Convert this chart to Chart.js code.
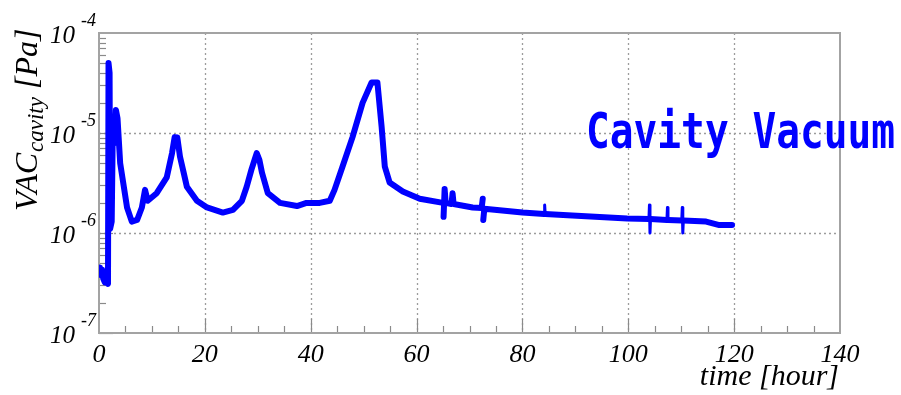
<!DOCTYPE html>
<html>
<head>
<meta charset="utf-8">
<script src="https://cdn.jsdelivr.net/npm/chart.js@4/dist/chart.umd.min.js"></script>
<style>
html,body{margin:0;padding:0;background:#fff;}
#c{display:block;}
</style>
</head>
<body>
<canvas id="c" width="901" height="395"></canvas>
<script>
// ---- data ----
const hours = [0,0.2,0.4,0.6,0.8,1.1,1.5,1.7,1.8,2.0,
  2.1,2.4,2.6,2.9,3.2,3.5,4.0,5.3,6.2,7.2,
  8.1,8.7,9.2,10.9,12.8,13.8,14.3,14.8,15.3,16.0,16.6,
  18.5,20.4,23.4,25.3,27.0,27.9,28.8,29.4,29.8,30.3,
  30.8,31.9,34.2,37.4,39.2,41.7,43.6,44.5,46.0,47.9,
  49.8,51.5,52.6,53.4,54.0,54.9,57.4,60.6,65.0,65.1,
  65.3,65.5,66.6,66.8,67.0,70.6,72.3,72.5,72.6,72.8,
  80.0,84.1,84.2,84.3,89.4,99.8,103.9,104.0,104.1,104.2,
  107.3,107.4,107.5,110.1,110.2,110.3,110.4,114.7,117.2,119.6];
const vacuum = [4.1e-7,4.5e-7,3.8e-7,4.3e-7,3.5e-7,3.2e-7,3.2e-7,3.1e-7,5.0e-5,4.0e-5,
  1.1e-6,1.3e-6,1.0e-5,7.9e-6,1.7e-5,1.4e-5,5.0e-6,1.8e-6,1.3e-6,1.35e-6,
  1.8e-6,2.7e-6,2.1e-6,2.5e-6,3.6e-6,6.3e-6,9.1e-6,9.0e-6,5.8e-6,4.0e-6,2.9e-6,
  2.1e-6,1.8e-6,1.6e-6,1.7e-6,2.1e-6,2.9e-6,4.3e-6,5.4e-6,6.3e-6,5.4e-6,
  4.0e-6,2.5e-6,2.0e-6,1.86e-6,2.0e-6,2.0e-6,2.1e-6,2.7e-6,4.6e-6,9.1e-6,
  2.0e-5,3.2e-5,3.2e-5,1.15e-5,4.6e-6,3.2e-6,2.6e-6,2.2e-6,2.0e-6,1.45e-6,
  2.75e-6,2.0e-6,1.95e-6,2.5e-6,1.95e-6,1.8e-6,1.78e-6,2.2e-6,1.35e-6,1.75e-6,
  1.6e-6,1.55e-6,1.9e-6,1.55e-6,1.5e-6,1.4e-6,1.38e-6,1.9e-6,1.0e-6,1.38e-6,
  1.35e-6,1.8e-6,1.35e-6,1.33e-6,1.8e-6,1.0e-6,1.33e-6,1.3e-6,1.2e-6,1.2e-6];

const xTickValues = [0,20,40,60,80,100,120,140];
const xTickLabels = ['0','20','40','60','80','100','120','140'];
const yDecades = [1e-4,1e-5,1e-6,1e-7];
const yTickExponents = ['-4','-5','-6','-7'];
const xGridValues = [20,40,60,80,100,120];
const yGridValues = [1e-5,1e-6];
const xTitle = 'time [hour]';
const yTitleMain = 'VAC', yTitleSub = 'cavity', yTitleUnit = '[Pa]';
const annotation = 'Cavity Vacuum';

const SERIF = '"Liberation Serif", "DejaVu Serif", serif';

const decor = {
  id: 'decor',
  beforeDatasetsDraw(chart) {
    const {ctx, chartArea: a, scales: {x, y}} = chart;
    ctx.save();
    ctx.strokeStyle = '#9c9c9c';
    ctx.lineWidth = 1.3;
    ctx.setLineDash([2, 3]);
    xGridValues.forEach(v => {
      const px = Math.round(x.getPixelForValue(v)) + 0.5;
      ctx.beginPath(); ctx.moveTo(px, a.top); ctx.lineTo(px, a.bottom); ctx.stroke();
    });
    yGridValues.forEach(v => {
      const py = Math.round(y.getPixelForValue(v)) + 0.5;
      ctx.beginPath(); ctx.moveTo(a.left, py); ctx.lineTo(a.right, py); ctx.stroke();
    });
    ctx.setLineDash([]);
    ctx.strokeStyle = '#8a8a8a';
    ctx.lineWidth = 1.2;
    for (let v = 5; v < 140; v += 5) {
      const px = Math.round(x.getPixelForValue(v)) + 0.5;
      const len = (v % 20 === 0) ? 14 : 7;
      ctx.beginPath(); ctx.moveTo(px, a.bottom); ctx.lineTo(px, a.bottom - len); ctx.stroke();
    }
    yDecades.forEach((d, i) => {
      if (i === 0) return;
      for (let m = 1; m <= 9; m++) {
        const v = d * m;
        const py = Math.round(y.getPixelForValue(v)) + 0.5;
        const len = m === 1 ? 14 : 7;
        ctx.beginPath(); ctx.moveTo(a.left, py); ctx.lineTo(a.left + len, py); ctx.stroke();
      }
    });
    ctx.strokeStyle = '#a3a3a3';
    ctx.lineWidth = 2;
    ctx.strokeRect(a.left, a.top, a.right - a.left, a.bottom - a.top);
    ctx.restore();
  },
  afterDraw(chart) {
    const {ctx, chartArea: a, scales: {x, y}} = chart;
    ctx.save();
    ctx.fillStyle = '#000';
    ctx.font = 'italic 26px ' + SERIF;
    ctx.textAlign = 'center';
    ctx.textBaseline = 'alphabetic';
    xTickValues.forEach((v, i) => {
      ctx.fillText(xTickLabels[i], x.getPixelForValue(v), 362);
    });
    yDecades.forEach((d, i) => {
      const py = y.getPixelForValue(d);
      ctx.font = 'italic 25px ' + SERIF;
      ctx.textAlign = 'right';
      ctx.fillText('10', 75, py + 10);
      ctx.font = 'italic 18px ' + SERIF;
      ctx.textAlign = 'left';
      ctx.fillText(yTickExponents[i], 81, py - 7);
    });
    ctx.font = 'italic 30px ' + SERIF;
    ctx.textAlign = 'right';
    ctx.fillText(xTitle, a.right - 1, 385);
    ctx.save();
    ctx.translate(37, 211);
    ctx.rotate(-Math.PI / 2);
    ctx.textAlign = 'left';
    ctx.font = 'italic 32px ' + SERIF;
    ctx.fillText(yTitleMain, 0, 0);
    let w = ctx.measureText(yTitleMain).width;
    ctx.font = 'italic 23px ' + SERIF;
    ctx.fillText(yTitleSub, w + 1, 6);
    w += 1 + ctx.measureText(yTitleSub).width;
    ctx.font = 'italic 32px ' + SERIF;
    ctx.fillText(' ' + yTitleUnit, w, 0);
    ctx.restore();
    ctx.save();
    ctx.fillStyle = '#0000ff';
    ctx.font = 'bold 50px "DejaVu Sans Mono", monospace';
    ctx.textAlign = 'left';
    ctx.translate(586, 148);
    ctx.scale(0.79, 1);
    ctx.fillText(annotation, 0, 0);
    ctx.restore();
    ctx.restore();
  }
};

new Chart(document.getElementById('c'), {
  type: 'line',
  data: {
    datasets: [{
      data: hours.map((h, i) => ({x: h, y: vacuum[i]})),
      borderColor: '#0000ff',
      borderWidth: 6,
      pointRadius: 0,
      tension: 0,
      fill: false,
      borderJoinStyle: 'round',
      borderCapStyle: 'round',
      segment: {
        borderWidth: ctx => (ctx.p0.parsed.x > 60 && ctx.p1.parsed.x - ctx.p0.parsed.x <= 0.15) ? 3 : 6
      }
    }]
  },
  options: {
    responsive: false,
    animation: false,
    devicePixelRatio: 1,
    layout: {padding: {left: 0, top: 33, right: 61, bottom: 0}},
    plugins: {legend: {display: false}, tooltip: {enabled: false}, title: {display: false}},
    scales: {
      x: {
        type: 'linear', min: 0, max: 140,
        grid: {display: false}, border: {display: false},
        ticks: {display: false},
        afterFit(s) { s.height = 62; }
      },
      y: {
        type: 'logarithmic', min: 1e-7, max: 1e-4,
        grid: {display: false}, border: {display: false},
        ticks: {display: false},
        afterFit(s) { s.width = 99; }
      }
    }
  },
  plugins: [decor]
});
</script>
</body>
</html>
